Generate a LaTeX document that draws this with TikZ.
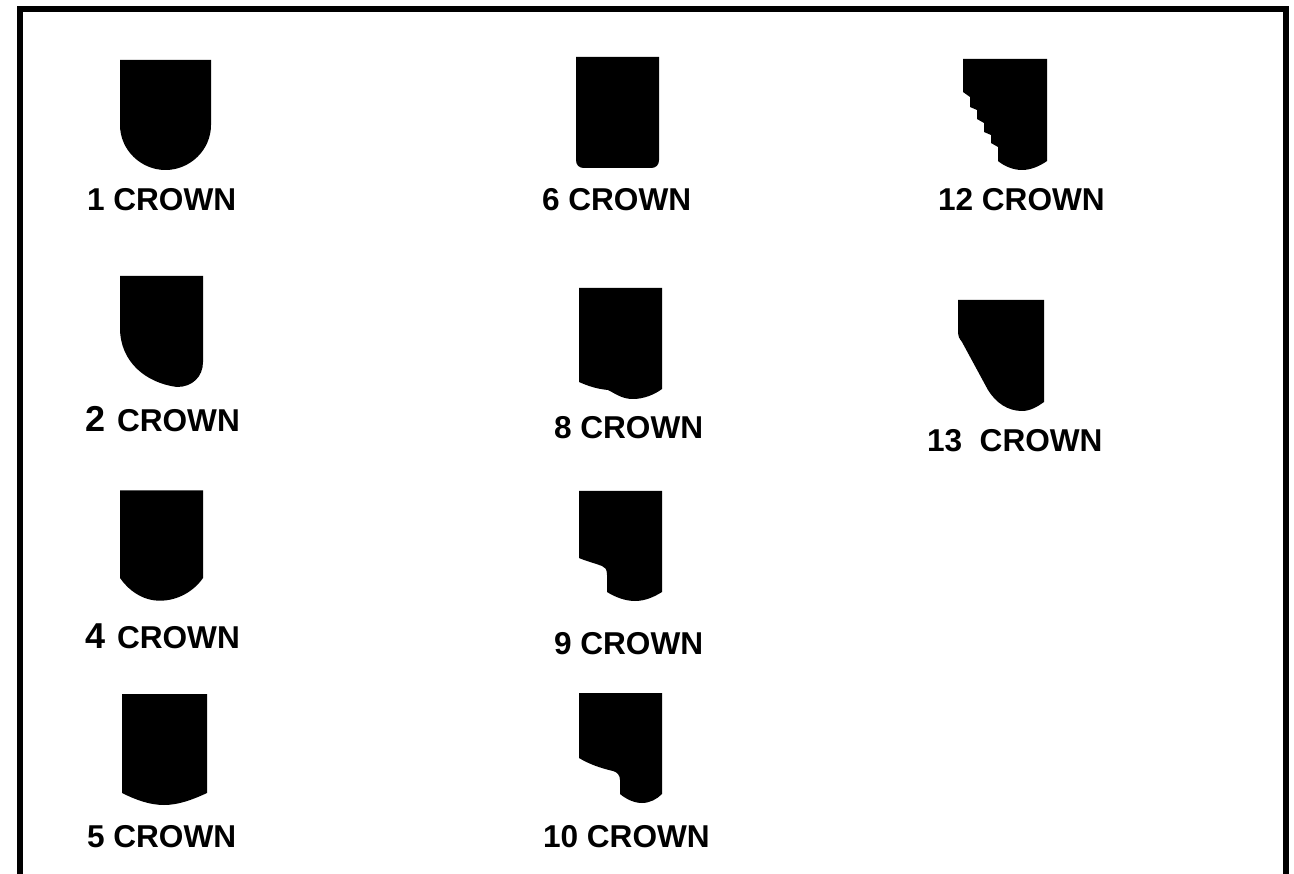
\documentclass[tikz,border=0pt]{standalone}
\usepackage{fontspec}
\setmainfont{Liberation Sans}
\newcommand{\lblfont}{\fontsize{31.6}{32}\selectfont\bfseries}
\newcommand{\bignum}[1]{{\fontsize{36}{36}\selectfont #1}\kern 12pt\relax}
\tikzset{
  frameline/.style={draw=black,line width=6pt,miter limit=10},
  crown/.style={fill=black,draw=none},
  lbl/.style={anchor=base west,inner sep=0pt,outer sep=0pt,font=\lblfont,text=black}
}
\begin{document}
\begin{tikzpicture}[x=1pt,y=-1pt]
\useasboundingbox (0,0) rectangle (1294,874);
\fill[white] (0,0) rectangle (1294,874);
\draw[frameline] (20.3,880) -- (20.3,8.7) -- (1286.3,8.7) -- (1286.3,880);
% column 1
\fill[crown] (120,60) -- (211,60) -- (211,125) .. controls (211,150) and (190,170) .. (165.5,170) .. controls (141,170) and (120,150) .. (120,125) -- cycle;
\fill[crown] (120,276) -- (203,276) -- (203,362) .. controls (203,377) and (192,387) .. (177,387) .. controls (146,383) and (120,362) .. (120,328) -- cycle;
\fill[crown] (120,490.5) -- (203,490.5) -- (203,578) .. controls (194,591) and (178,600.7) .. (160,600.7) .. controls (143,600.7) and (129,591) .. (120,578) -- cycle;
\fill[crown] (122,694) -- (207,694) -- (207,793) .. controls (192,800) and (178,805) .. (164,805) .. controls (150,805) and (136,800) .. (122,793) -- cycle;
% column 2
\fill[crown] (576,57) -- (659,57) -- (659,160) .. controls (659,165) and (656,168) .. (651,168) -- (584,168) .. controls (579,168) and (576,165) .. (576,160) -- cycle;
\fill[crown] (579,288) -- (662,288) -- (662,389) .. controls (654,395) and (643,399) .. (633,399) .. controls (622,399) and (616,394) .. (608,390) .. controls (597,389) and (588,386) .. (579,382) -- cycle;
\fill[crown] (579,491) -- (662,491) -- (662,592) .. controls (654,597) and (645,601) .. (635,601) .. controls (625,601) and (615,597) .. (607,592) -- (607,575) .. controls (607,569) and (605,567) .. (602,566) .. controls (594,563) and (586,561) .. (579,558) -- cycle;
\fill[crown] (579,693) -- (662,693) -- (662,794) .. controls (657,799) and (650,803) .. (642,803) .. controls (634,803) and (626,799) .. (620,794) -- (620,780) .. controls (620,775) and (617,772) .. (613,771) .. controls (600,768) and (589,764) .. (579,758) -- cycle;
% column 3
\fill[crown] (963,59) -- (1047,59) -- (1047,161) .. controls (1040,166) and (1031,170) .. (1022,170) .. controls (1013,170) and (1004,166) .. (998,161) -- (998,147) -- (991,143) -- (991,135) -- (984,132) -- (984,123) -- (977,119) -- (977,110) -- (970,107) -- (970,97) -- (963,92) -- cycle;
\fill[crown] (958,300) -- (1044,300) -- (1044,402) .. controls (1037,407) and (1030,411) .. (1022,411) .. controls (1008,411) and (996,403) .. (988,390) -- (962,342) .. controls (959,338) and (958,336) .. (958,333) -- cycle;
% labels
\node[lbl] (l1) at (87,211) {1 CROWN};
\node[lbl] (l2) at (85,432) {\bignum{2}CROWN};
\node[lbl] (l4) at (85,648) {\bignum{4}CROWN};
\node[lbl] (l5) at (87,847) {5 CROWN};
\node[lbl] (l6) at (542,211) {6 CROWN};
\node[lbl] (l8) at (554,439) {8 CROWN};
\node[lbl] (l9) at (554,654) {9 CROWN};
\node[lbl] (l10) at (543,847) {10 CROWN};
\node[lbl] (l12) at (938,211) {12 CROWN};
\node[lbl] (l13) at (927,452) {13\ \ CROWN};
\end{tikzpicture}
\end{document}
